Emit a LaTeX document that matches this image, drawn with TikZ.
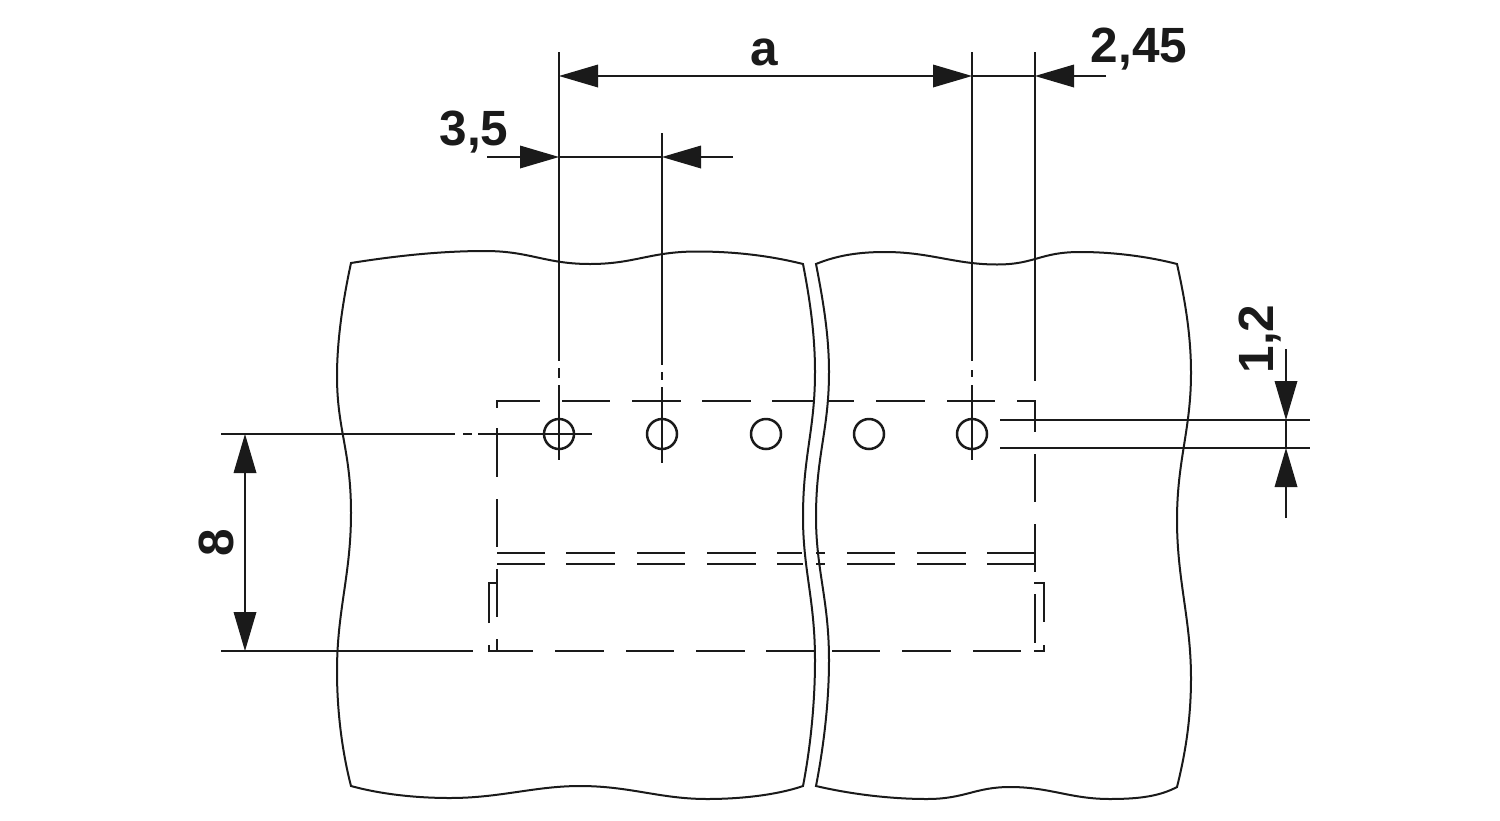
\documentclass[tikz,border=0pt]{standalone}
\usepackage{fontspec}
\setmainfont{Liberation Sans}
\usetikzlibrary{arrows.meta}
\definecolor{ink}{HTML}{1A1A1A}
\tikzset{
  thinline/.style={draw=ink,line width=1.5pt},
  outline/.style={draw=ink,line width=2pt,line join=miter},
  hid/.style={draw=ink,line width=2.1pt},
  hole/.style={circle,draw=ink,line width=2.5pt,minimum size=30pt,inner sep=0pt},
  lab/.style={font=\bfseries\fontsize{49.5}{50}\selectfont,text=ink,inner sep=0pt,anchor=base},
  tipped/.style={thinline,-{Triangle[length=39pt,width=23pt,fill=ink,line width=0pt]}},
  both/.style={thinline,{Triangle[length=39pt,width=23pt,fill=ink,line width=0pt]}-{Triangle[length=39pt,width=23pt,fill=ink,line width=0pt]}}
}
\begin{document}
\begin{tikzpicture}[x=1pt,y=-1pt]
\useasboundingbox (0,0) rectangle (1500,820);
\fill[white] (0,0) rectangle (1500,820);

% left panel
\draw[outline] (351,263) .. controls (395,256) and (440,251) .. (485,251)
  .. controls (530,251) and (545,264) .. (590,264)
  .. controls (635,264) and (650,251.5) .. (697,251.5)
  .. controls (740,251.5) and (775,257) .. (803,264)
  .. controls (810,300) and (815,335) .. (815,372)
  .. controls (815,430) and (803,455) .. (803,517)
  .. controls (803,570) and (815,600) .. (815,660)
  .. controls (815,705) and (810,750) .. (803,786)
  .. controls (780,794) and (745,799) .. (707,799)
  .. controls (660,799) and (630,786) .. (580,786)
  .. controls (535,786) and (500,798) .. (450,798)
  .. controls (415,798) and (380,794) .. (351,786)
  .. controls (343,755) and (337,715) .. (337,671)
  .. controls (337,610) and (351,575) .. (351,513)
  .. controls (351,450) and (337,430) .. (337,376)
  .. controls (337,340) and (343,300) .. (351,263) -- cycle;
% right panel
\draw[outline] (816,264) .. controls (838,255) and (860,252) .. (885,252)
  .. controls (930,252) and (955,264.5) .. (997,264.5)
  .. controls (1035,264.5) and (1040,252) .. (1080,252)
  .. controls (1115,252) and (1150,257) .. (1177,264)
  .. controls (1185,300) and (1191,335) .. (1191,373)
  .. controls (1191,430) and (1177,460) .. (1177,520)
  .. controls (1177,580) and (1191,620) .. (1191,678)
  .. controls (1191,720) and (1185,755) .. (1177,787)
  .. controls (1160,796) and (1140,799) .. (1110,799)
  .. controls (1070,799) and (1050,787) .. (1010,787)
  .. controls (975,787) and (965,799) .. (927,799)
  .. controls (890,799) and (850,794) .. (816,786)
  .. controls (823,750) and (829,705) .. (829,660)
  .. controls (829,600) and (816,570) .. (816,517)
  .. controls (816,455) and (829,430) .. (829,372)
  .. controls (829,335) and (823,300) .. (816,264) -- cycle;

% hidden top edge
\foreach \a/\b in {497/540,562/610,632/681,702/751,772/815,828/854,876/925,947/995,1017/1035}
  \draw[hid] (\a,401) -- (\b,401);
% hidden double lines
\foreach \a/\b in {497/545,566/615,637/685,707/756,777/802,816/825,847/895,917/966,987/1035}
  \draw[hid] (\a,553) -- (\b,553);
\foreach \a/\b in {497/545,566/615,637/685,707/756,777/803,816/825,847/895,917/966,987/1035}
  \draw[hid] (\a,564) -- (\b,564);
% hidden bottom edge
\foreach \a/\b in {489/533,555/604,626/674,696/745,766/815,832/880,902/951,973/1021,1034/1044}
  \draw[hid] (\a,651) -- (\b,651);
% hidden left edge
\foreach \a/\b in {400/408,428/477,499/547,569/617,639/651}
  \draw[hid] (497,\a) -- (497,\b);
% hidden right edge
\foreach \a/\b in {400/432,454/502,524/572,594/643}
  \draw[hid] (1035,\a) -- (1035,\b);
% brackets
\draw[hid] (489,623) -- (489,583) -- (497,583);
\draw[hid] (489,652) -- (489,645);
\draw[hid] (1034,583) -- (1044,583) -- (1044,622);
\draw[hid] (1044,645) -- (1044,652);

% holes
\node[hole] (h1) at (559,434) {};
\node[hole] (h2) at (662,434) {};
\node[hole] (h3) at (766,434) {};
\node[hole] (h4) at (869,434) {};
\node[hole] (h5) at (972,434) {};

% centre and extension lines
\draw[thinline] (559,52) -- (559,361);
\draw[thinline] (559,368) -- (559,378);
\draw[thinline] (559,385) -- (559,460);
\draw[thinline] (662,133) -- (662,365);
\draw[thinline] (662,372) -- (662,380);
\draw[thinline] (662,387) -- (662,463);
\draw[thinline] (972,52) -- (972,361);
\draw[thinline] (972,370) -- (972,377);
\draw[thinline] (972,385) -- (972,460);
\draw[thinline] (1035,52) -- (1035,381);
\draw[thinline] (221,434) -- (455,434);
\draw[thinline] (463,434) -- (472,434);
\draw[thinline] (478,434) -- (592,434);
\draw[thinline] (221,651) -- (473,651);
\draw[thinline] (1000,420) -- (1310,420);
\draw[thinline] (1000,448) -- (1310,448);

% dimensions
\coordinate (aL) at (559,76);
\coordinate (aR) at (972,76);
\coordinate (bR) at (1035,76);
\coordinate (bE) at (1106,76);
\draw[both] (aL) -- (aR);
\draw[thinline] (aR) -- (bR);
\draw[tipped] (bE) -- (bR);
\coordinate (cS) at (487,157);
\coordinate (cL) at (559,157);
\coordinate (cR) at (662,157);
\coordinate (cE) at (733,157);
\draw[tipped] (cS) -- (cL);
\draw[thinline] (cL) -- (cR);
\draw[tipped] (cE) -- (cR);
\coordinate (dT) at (245,434);
\coordinate (dB) at (245,651);
\draw[both] (dT) -- (dB);
\coordinate (eS) at (1286,349);
\coordinate (eT) at (1286,420);
\coordinate (eB) at (1286,448);
\coordinate (eE) at (1286,518);
\draw[tipped] (eS) -- (eT);
\draw[thinline] (eT) -- (eB);
\draw[tipped] (eE) -- (eB);

% labels
\node[lab] (la) at (764,65) {a};
\node[lab] (lb) at (1139,62) {2,45};
\node[lab] (lc) at (474,145) {3,5};
\node[lab,rotate=90] (ld) at (233,543) {8};
\node[lab,rotate=90] (le) at (1273,339) {1,2};
\end{tikzpicture}
\end{document}
